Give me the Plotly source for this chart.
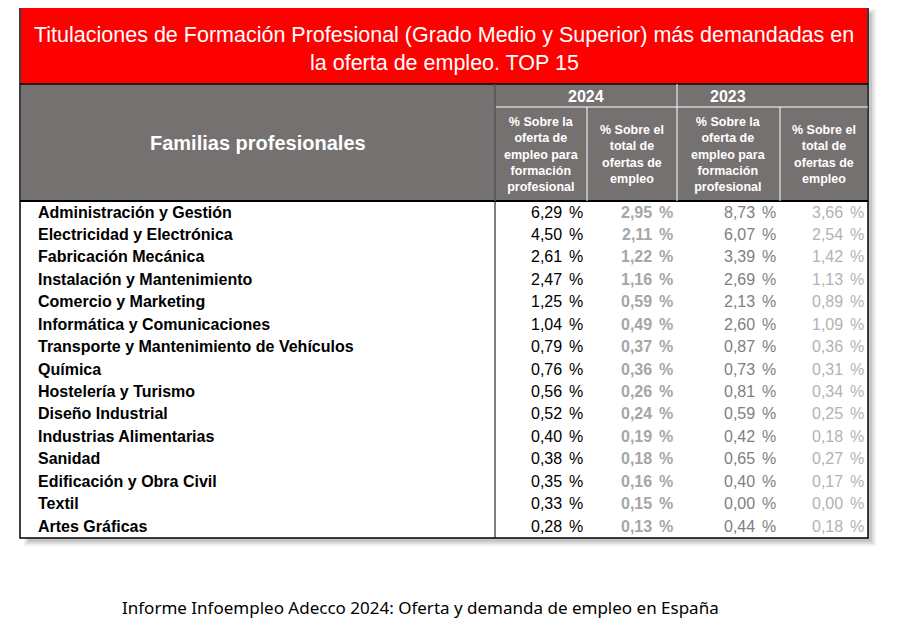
import plotly.graph_objects as go

families = ["Administración y Gestión","Electricidad y Electrónica","Fabricación Mecánica",
 "Instalación y Mantenimiento","Comercio y Marketing","Informática y Comunicaciones",
 "Transporte y Mantenimiento de Vehículos","Química","Hostelería y Turismo","Diseño Industrial",
 "Industrias Alimentarias","Sanidad","Edificación y Obra Civil","Textil","Artes Gráficas"]
fp_2024 = [6.29,4.50,2.61,2.47,1.25,1.04,0.79,0.76,0.56,0.52,0.40,0.38,0.35,0.33,0.28]
tot_2024 = [2.95,2.11,1.22,1.16,0.59,0.49,0.37,0.36,0.26,0.24,0.19,0.18,0.16,0.15,0.13]
fp_2023 = [8.73,6.07,3.39,2.69,2.13,2.60,0.87,0.73,0.81,0.59,0.42,0.65,0.40,0.00,0.44]
tot_2023 = [3.66,2.54,1.42,1.13,0.89,1.09,0.36,0.31,0.34,0.25,0.18,0.27,0.17,0.00,0.18]
years = ["2024","2023"]
sub_fp = "% Sobre la<br>oferta de<br>empleo para<br>formación<br>profesional"
sub_tot = "% Sobre el<br>total de<br>ofertas de<br>empleo"

F = "Liberation Sans"
fig = go.Figure()
shapes = []
ann = []
def rect(x0,y0,x1,y1,fill,line=None,w=0):
    shapes.append(dict(type="rect",x0=x0,y0=y0,x1=x1,y1=y1,fillcolor=fill,
                       line=dict(color=line or fill,width=w),layer="below"))
def line(x0,y0,x1,y1,c,w=1):
    shapes.append(dict(type="line",x0=x0,y0=y0,x1=x1,y1=y1,line=dict(color=c,width=w)))
def txt(x,y,t,size,color,xa="center",bold=False,font=F):
    ann.append(dict(x=x,y=y,text=("<b>%s</b>"%t) if bold else t,showarrow=False,xanchor=xa,
                    yanchor="middle",font=dict(family=font,size=size,color=color),align="center"))

for i,a in enumerate([0.06,0.08,0.10]):
    rect(24+i*2,9+i*2,876-i*2,546-i*2,"rgba(0,0,0,%.2f)"%a)
rect(20,5,868,538,"white","black",1.5)
rect(21,6,867,84,"#ff0000")
rect(21,84,867,201,"#767171")
line(20,84,868,84,"black",1.5)
line(20,201,868,201,"black",2)
cols = [20,495,587,677,780,868]
for x in [495,677]:
    line(x,84,x,201,"white",1)
for x in [587,780]:
    line(x,107,x,201,"white",1)
line(495,107,868,107,"white",1)
line(495,84,495,538,"black",1)

txt(444,35,"Titulaciones de Formación Profesional (Grado Medio y Superior) más demandadas en",21.5,"white")
txt(444,63,"la oferta de empleo. TOP 15",21.5,"white")
txt(258,143,"Familias profesionales",20,"white",bold=True)
txt(586,96,years[0],16,"white",bold=True)
txt(728,96,years[1],16,"white",bold=True)
for c,t in zip(range(4),[sub_fp,sub_tot,sub_fp,sub_tot]):
    txt((cols[c+1]+cols[c+2])/2,154,t,12.5,"white",bold=True)

colors = ["#000000","#a6a6a6","#808080","#b3b3b3"]
series = [fp_2024,tot_2024,fp_2023,tot_2023]
y0, dy = 212, 22.43
for i,f in enumerate(families):
    y = y0+i*dy
    txt(36,y,f,16,"black","left",bold=True)
    for c,s in enumerate(series):
        right = cols[c+2]
        val = ("%.2f"%s[i]).replace(".",",")
        txt(right-23,y,val,16,colors[c],"right",bold=(c==1))
        txt(right-2,y,"%",16,colors[c],"right",bold=(c==1))

txt(420,607,"Informe Infoempleo Adecco 2024: Oferta y demanda de empleo en España",17,"black",font="Noto Sans")

fig.update_layout(width=883,height=610,margin=dict(l=0,r=0,t=0,b=0),
    plot_bgcolor="white",paper_bgcolor="white",shapes=shapes,annotations=ann,
    xaxis=dict(range=[8,891],visible=False,fixedrange=True),
    yaxis=dict(range=[618,8],visible=False,fixedrange=True),showlegend=False)
fig.write_html("out.html")
